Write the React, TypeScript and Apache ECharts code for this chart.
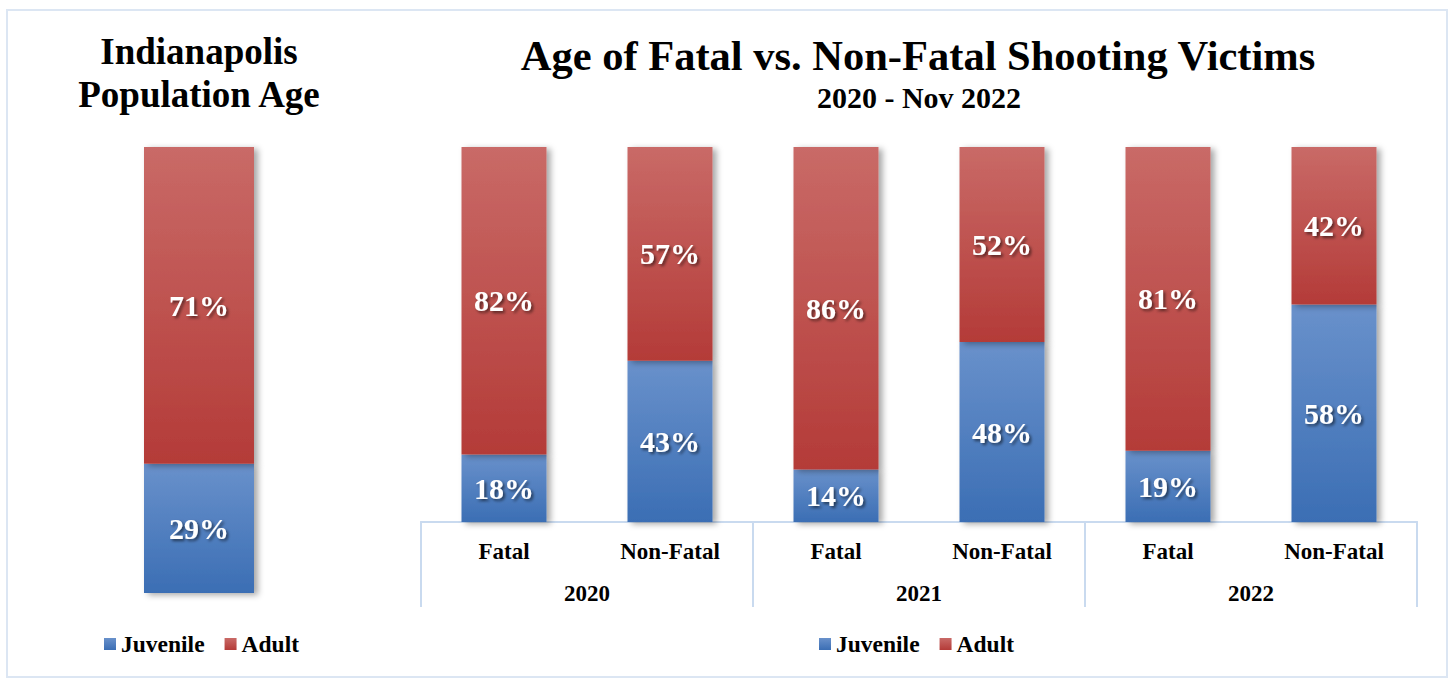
import React, { useEffect, useRef } from "react";
import * as echarts from "echarts";

const popCategories = ["Indianapolis"];
const popJuvenile = [29];
const popAdult = [71];

const victimCategories = ["Fatal", "Non-Fatal", "Fatal", "Non-Fatal", "Fatal", "Non-Fatal"];
const yearLabels = ["2020", "2021", "2022"];
const victimJuvenile = [18, 43, 14, 48, 19, 58];
const victimAdult = [82, 57, 86, 52, 81, 42];

const legendNames = ["Juvenile", "Adult"];

const FONT = "'Liberation Serif', 'Times New Roman', serif";

const blueGrad = new echarts.graphic.LinearGradient(0, 0, 0, 1, [
  { offset: 0, color: "#6991cb" },
  { offset: 1, color: "#3b6eb4" },
]);
const redGrad = new echarts.graphic.LinearGradient(0, 0, 0, 1, [
  { offset: 0, color: "#c96a67" },
  { offset: 1, color: "#b43b38" },
]);

const barShadow = {
  shadowColor: "rgba(0,0,0,0.35)",
  shadowBlur: 6,
  shadowOffsetX: 4,
  shadowOffsetY: 2,
};

const dataLabel = {
  show: true,
  position: "inside",
  formatter: "{c}%",
  color: "#ffffff",
  fontFamily: FONT,
  fontWeight: "bold",
  fontSize: 30,
  textShadowColor: "rgba(0,0,0,0.55)",
  textShadowBlur: 3,
  textShadowOffsetX: 2,
  textShadowOffsetY: 2,
};

const axisColor = "#c9daef";

const legendText = {
  fontFamily: FONT,
  fontWeight: "bold",
  fontSize: 23.5,
  color: "#000",
};

export default function App() {
  const ref = useRef<HTMLDivElement>(null);

  useEffect(() => {
    if (!ref.current) return;
    const chart = echarts.init(ref.current, null, { renderer: "svg" });
    chart.setOption({
      animation: false,
      backgroundColor: "#ffffff",
      title: [
        {
          text: "Indianapolis\nPopulation Age",
          left: 194,
          top: 25,
          textAlign: "center",
          textStyle: {
            fontFamily: FONT,
            fontWeight: "bold",
            fontSize: 37,
            lineHeight: 43,
            color: "#000",
          },
        },
        {
          text: "Age of Fatal vs. Non-Fatal Shooting Victims",
          left: 913,
          top: 28,
          textAlign: "center",
          textStyle: {
            fontFamily: FONT,
            fontWeight: "bold",
            fontSize: 42.5,
            lineHeight: 44,
            color: "#000",
          },
        },
        {
          text: "2020 - Nov 2022",
          left: 914,
          top: 77,
          textAlign: "center",
          textStyle: {
            fontFamily: FONT,
            fontWeight: "bold",
            fontSize: 30,
            lineHeight: 30,
            color: "#000",
          },
        },
      ],
      legend: [
        {
          data: legendNames,
          left: 99,
          top: 627,
          icon: "rect",
          itemWidth: 12,
          itemHeight: 12,
          itemGap: 20,
          textStyle: legendText,
        },
        {
          data: legendNames,
          left: 814,
          top: 627,
          icon: "rect",
          itemWidth: 12,
          itemHeight: 12,
          itemGap: 20,
          textStyle: legendText,
        },
      ],
      graphic: [
        {
          type: "rect",
          shape: { x: 7, y: 10, width: 1440, height: 667 },
          style: { fill: "none", stroke: "#dce6f3", lineWidth: 2 },
          silent: true,
        },
      ],
      grid: [
        { left: 144, top: 147, width: 110, height: 446 },
        { left: 421, top: 147, width: 996, height: 375 },
      ],
      xAxis: [
        {
          type: "category",
          gridIndex: 0,
          data: popCategories,
          show: false,
        },
        {
          type: "category",
          gridIndex: 1,
          data: victimCategories,
          axisLine: { show: true, lineStyle: { color: axisColor, width: 2 } },
          axisTick: { show: false },
          axisLabel: {
            interval: 0,
            margin: 18,
            fontFamily: FONT,
            fontWeight: "bold",
            fontSize: 23,
            color: "#000",
          },
        },
        {
          type: "category",
          gridIndex: 1,
          position: "bottom",
          data: yearLabels,
          axisLine: { show: true, lineStyle: { color: axisColor, width: 2 } },
          axisTick: { show: true, interval: 0, length: 85, lineStyle: { color: axisColor, width: 2 } },
          axisLabel: {
            interval: 0,
            margin: 60,
            fontFamily: FONT,
            fontWeight: "bold",
            fontSize: 23,
            color: "#000",
          },
        },
      ],
      yAxis: [
        { type: "value", gridIndex: 0, min: 0, max: 100, show: false },
        { type: "value", gridIndex: 1, min: 0, max: 100, show: false },
      ],
      series: [
        {
          name: "Juvenile",
          type: "bar",
          xAxisIndex: 0,
          yAxisIndex: 0,
          stack: "pop",
          barWidth: 110,
          data: popJuvenile,
          itemStyle: { color: blueGrad, ...barShadow },
          label: dataLabel,
        },
        {
          name: "Adult",
          type: "bar",
          xAxisIndex: 0,
          yAxisIndex: 0,
          stack: "pop",
          barWidth: 110,
          data: popAdult,
          itemStyle: { color: redGrad, ...barShadow },
          label: dataLabel,
        },
        {
          name: "Juvenile",
          type: "bar",
          xAxisIndex: 1,
          yAxisIndex: 1,
          stack: "victims",
          barWidth: 85,
          data: victimJuvenile,
          itemStyle: { color: blueGrad, ...barShadow },
          label: dataLabel,
        },
        {
          name: "Adult",
          type: "bar",
          xAxisIndex: 1,
          yAxisIndex: 1,
          stack: "victims",
          barWidth: 85,
          data: victimAdult,
          itemStyle: { color: redGrad, ...barShadow },
          label: dataLabel,
        },
      ],
    });
    return () => chart.dispose();
  }, []);

  return (
    <div
      ref={ref}
      style={{ position: "fixed", left: 0, top: 0, width: 1452, height: 679 }}
    />
  );
}
